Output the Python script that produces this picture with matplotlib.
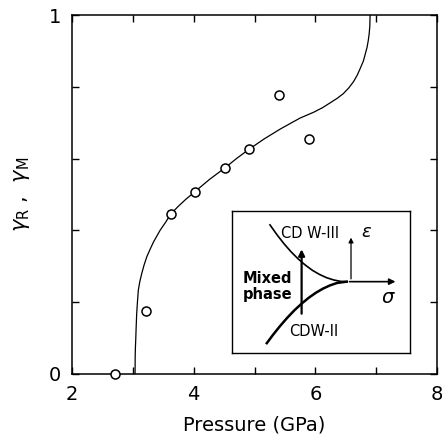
import matplotlib
matplotlib.use('Agg')
import matplotlib.pyplot as plt

# ── Data ──────────────────────────────────────────────────────────────────────
pressure_pts = [2.71, 3.22, 3.63, 4.02, 4.52, 4.91, 5.41, 5.90]
gamma_pts    = [0.0, 0.175, 0.447, 0.507, 0.575, 0.626, 0.776, 0.655]

curve_p = [3.036, 3.038, 3.042, 3.047, 3.054, 3.063, 3.075, 3.09, 3.115,
           3.146, 3.185, 3.23, 3.285, 3.34, 3.45, 3.54, 3.62, 3.74, 3.86,
           4.02, 4.26, 4.52, 4.71, 4.91, 5.16, 5.42, 5.60, 5.75, 5.97, 6.12,
           6.24, 6.36, 6.46, 6.55, 6.63, 6.69, 6.74, 6.79, 6.82, 6.85, 6.87,
           6.885, 6.895, 6.90]
curve_g = [0.0, 0.05, 0.075, 0.095, 0.13, 0.169, 0.2, 0.234, 0.258,
           0.28, 0.304, 0.327, 0.348, 0.368, 0.401, 0.423, 0.445, 0.466,
           0.485, 0.508, 0.542, 0.575, 0.601, 0.626, 0.655, 0.682, 0.699,
           0.713, 0.729, 0.742, 0.755, 0.768, 0.781, 0.797, 0.815, 0.833,
           0.852, 0.872, 0.891, 0.910, 0.929, 0.948, 0.968, 1.0]

# inset schematic (relative box coordinates)
upper_x = [0.212, 0.25, 0.29, 0.33, 0.37, 0.41, 0.45, 0.49, 0.53, 0.57,
           0.61, 0.644]
upper_y = [0.900, 0.833, 0.769, 0.712, 0.662, 0.619, 0.582, 0.553, 0.530,
           0.514, 0.504, 0.502]
lower_x = [0.194, 0.23, 0.27, 0.31, 0.35, 0.39, 0.43, 0.47, 0.51, 0.55,
           0.59, 0.644]
lower_y = [0.071, 0.131, 0.193, 0.250, 0.302, 0.348, 0.389, 0.424, 0.453,
           0.476, 0.493, 0.502]

fig = plt.figure(figsize=(4.42, 4.44), dpi=100)
ax = fig.add_axes([0.163, 0.1577, 0.8257, 0.8085])

ax.plot(curve_p, curve_g, color='black', lw=0.9)
ax.plot(pressure_pts, gamma_pts, 'o', mfc='white', mec='black', ms=6.5,
        mew=1.1, clip_on=False, zorder=5)

ax.set_xlim(2, 8)
ax.set_ylim(0, 1)
ax.set_xticks([2, 3, 4, 5, 6, 7, 8])
ax.set_xticklabels(['2', '', '4', '', '6', '', '8'])
ax.set_yticks([0, 0.2, 0.4, 0.6, 0.8, 1])
ax.set_yticklabels(['0', '', '', '', '', '1'])
ax.tick_params(direction='in', top=True, right=True, length=5, width=1,
               labelsize=14, pad=8)
for s in ax.spines.values():
    s.set_linewidth(1.1)
ax.set_xlabel('Pressure (GPa)', fontsize=14, labelpad=8)
ax.set_ylabel(r'$\gamma_{\rm R}$ ,  $\gamma_{\rm M}$', fontsize=15, labelpad=12)

# ── Inset schematic ───────────────────────────────────────────────────────────
ins = fig.add_axes([0.5256, 0.2043, 0.402, 0.3214])
ins.set_xlim(0, 1)
ins.set_ylim(0, 1)
ins.set_xticks([])
ins.set_yticks([])
for s in ins.spines.values():
    s.set_linewidth(1.0)

ins.plot(upper_x, upper_y, color='black', lw=1.2)
ins.plot(lower_x, lower_y, color='black', lw=1.8)
ins.annotate('', xy=(0.934, 0.502), xytext=(0.644, 0.502),
             arrowprops=dict(arrowstyle='-|>', color='black', lw=1.2,
                             mutation_scale=9))
ins.annotate('', xy=(0.39, 0.748), xytext=(0.39, 0.258),
             arrowprops=dict(arrowstyle='-|>', color='black', lw=1.6,
                             mutation_scale=9))
ins.annotate('', xy=(0.668, 0.83), xytext=(0.668, 0.502),
             arrowprops=dict(arrowstyle='-|>', color='black', lw=0.9,
                             mutation_scale=7))

ins.text(0.437, 0.842, 'CD W-III', fontsize=10.5, ha='center', va='center')
ins.text(0.756, 0.853, r'$\varepsilon$', fontsize=13, ha='center', va='center')
ins.text(0.878, 0.393, r'$\sigma$', fontsize=14, ha='center', va='center')
ins.text(0.456, 0.152, 'CDW-II', fontsize=10.5, ha='center', va='center')
ins.text(0.20, 0.47, 'Mixed\nphase', fontsize=10.5, fontweight='bold',
         ha='center', va='center', linespacing=1.1)

plt.savefig('out.png', dpi=100)
